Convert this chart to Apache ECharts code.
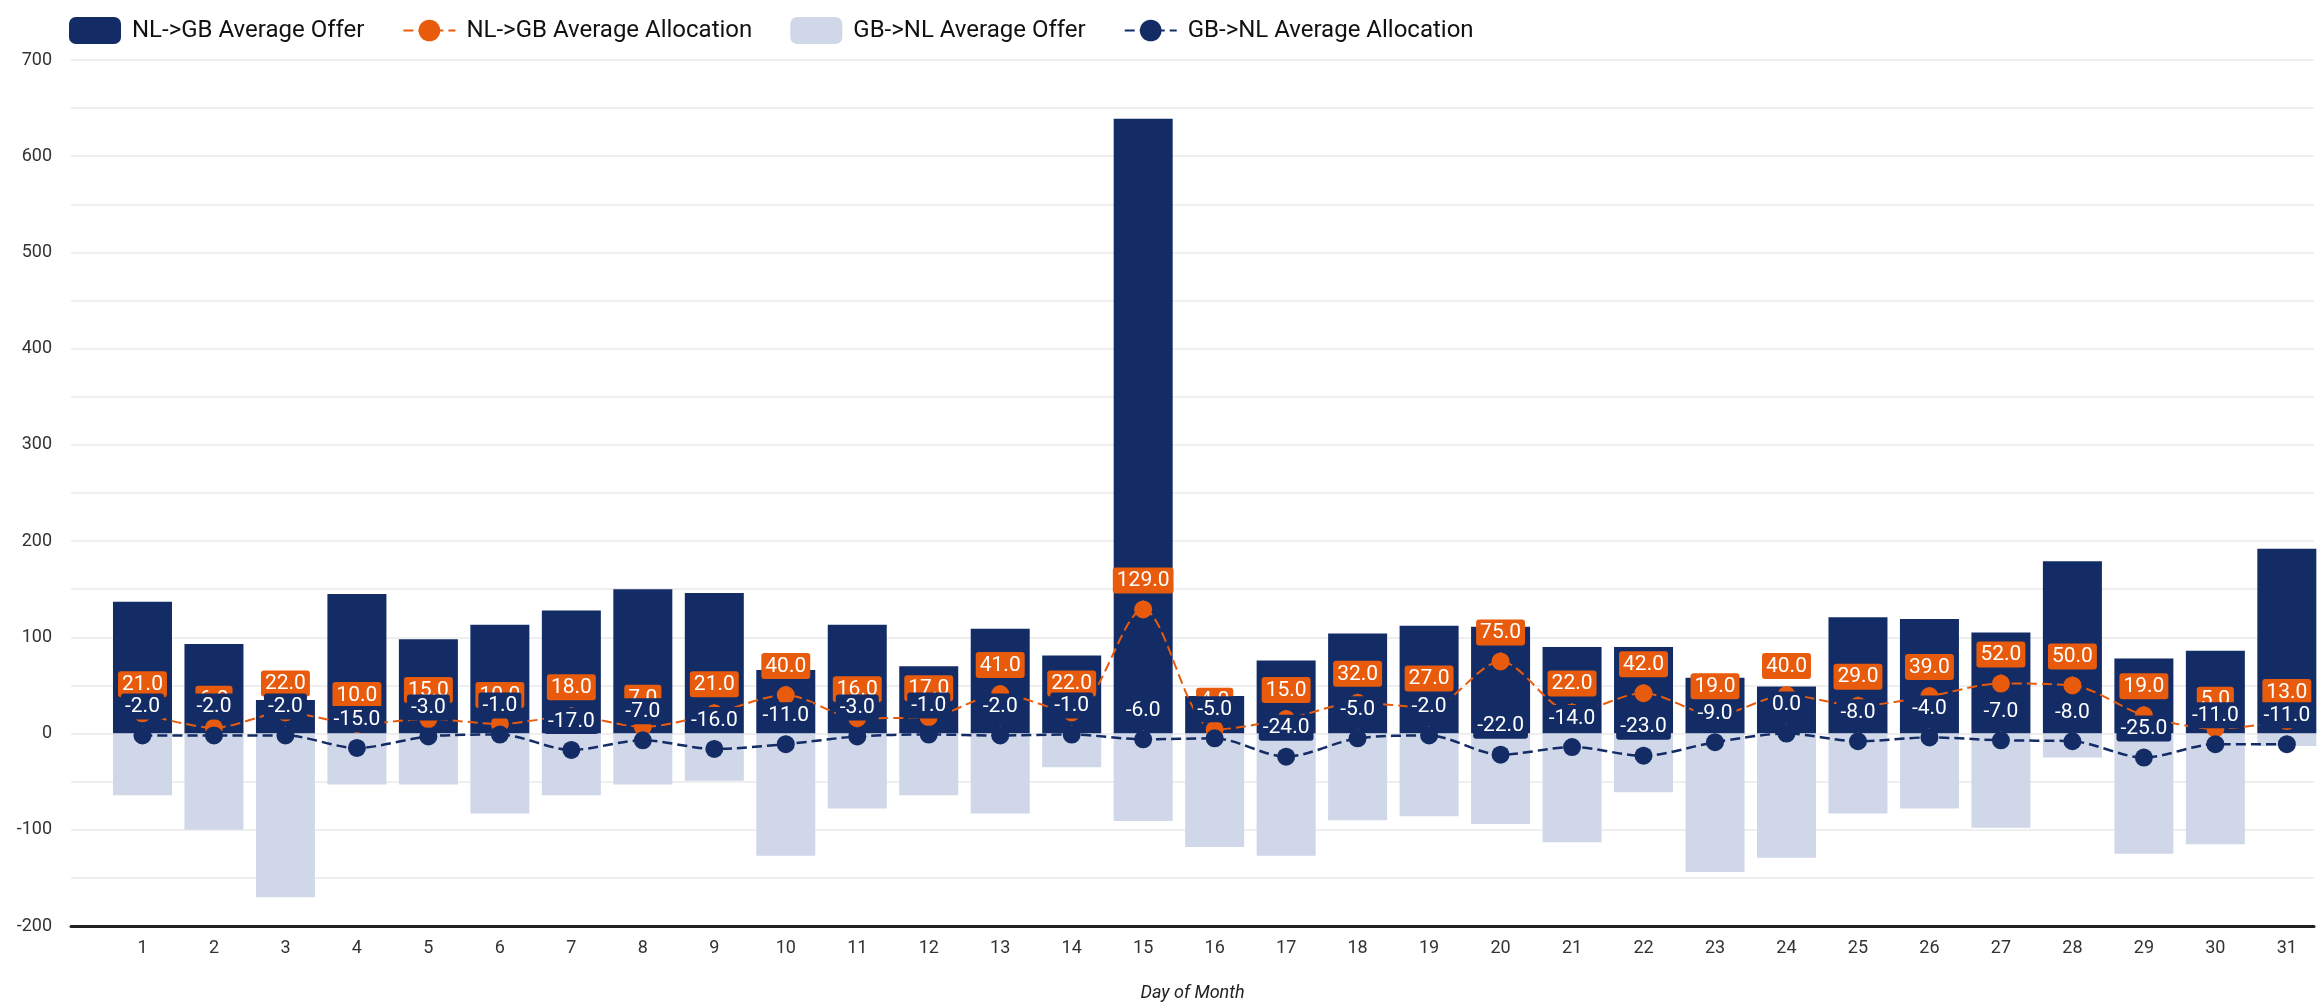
<!DOCTYPE html>
<html>
<head>
<meta charset="utf-8">
<script src="https://cdn.jsdelivr.net/npm/echarts@6/dist/echarts.min.js"></script>
<style>
  html, body { margin: 0; padding: 0; background: #fff; }
  #main { width: 2317px; height: 1007px; }
</style>
</head>
<body>
<div id="main"></div>
<script>
// values
var days = [1, 2, 3, 4, 5, 6, 7, 8, 9, 10, 11, 12, 13, 14, 15, 16, 17, 18, 19, 20, 21, 22, 23, 24, 25, 26, 27, 28, 29, 30, 31];
var nlgbOffer = [137, 93, 35, 145, 98, 113, 128, 150, 146, 66, 113, 70, 109, 81, 639, 39, 76, 104, 112, 111, 90, 90, 58, 49, 121, 119, 105, 179, 78, 86, 192];
var gbnlOffer = [-64, -100, -170, -53, -53, -83, -64, -53, -49, -127, -78, -64, -83, -35, -91, -118, -127, -90, -86, -94, -113, -61, -144, -129, -83, -78, -98, -25, -125, -115, -13];
var nlgbAlloc = [21, 6, 22, 10, 15, 10, 18, 7, 21, 40, 16, 17, 41, 22, 129, 4, 15, 32, 27, 75, 22, 42, 19, 40, 29, 39, 52, 50, 19, 5, 13];
var gbnlAlloc = [-2, -2, -2, -15, -3, -1, -17, -7, -16, -11, -3, -1, -2, -1, -6, -5, -24, -5, -2, -22, -14, -23, -9, 0, -8, -4, -7, -8, -25, -11, -11];

var NAVY = '#132c66';
var LIGHT = '#cfd7e8';
var ORANGE = '#e85b0c';
var FONT = 'Roboto';

function pairs(arr) {
    var out = [];
    for (var i = 0; i < days.length; i++) {
        out.push([days[i], arr[i]]);
    }
    return out;
}

function valueLabel(bg) {
    return {
        show: true,
        position: 'top',
        distance: 7,
        color: '#fff',
        fontFamily: FONT,
        fontSize: 21,
        backgroundColor: bg,
        borderRadius: 3,
        padding: [3, 4, 2, 4],
        formatter: function (p) { return p.value[1].toFixed(1); }
    };
}

var chart = echarts.init(document.getElementById('main'));

chart.setOption({
    animation: false,
    backgroundColor: '#fff',
    textStyle: { fontFamily: FONT },
    legend: {
        left: 64,
        top: 12,
        itemWidth: 52,
        itemHeight: 27,
        itemGap: 38,
        textStyle: { fontSize: 24, color: '#111', fontFamily: FONT, padding: [0, 0, 0, 6] },
        data: ['NL->GB Average Offer', 'NL->GB Average Allocation', 'GB->NL Average Offer', 'GB->NL Average Allocation']
    },
    // the reference plot runs past the right edge, so the axis stops part way into day 32
    grid: { left: 71, right: 0, top: 60, bottom: 57 },
    xAxis: {
        type: 'value',
        min: 0,
        max: 31.38,
        interval: 1,
        name: 'Day of Month',
        nameLocation: 'middle',
        nameGap: 58,
        nameTextStyle: { fontStyle: 'italic', fontSize: 18, color: '#222', fontFamily: FONT },
        splitLine: { show: false },
        axisTick: { show: false },
        axisLine: { show: true, onZero: false, lineStyle: { color: '#222', width: 3 } },
        axisLabel: {
            fontSize: 18,
            color: '#333',
            margin: 13,
            showMaxLabel: true,
            formatter: function (v) { return (v < 1 || v > 31) ? '' : String(v); }
        }
    },
    yAxis: {
        type: 'value',
        min: -200,
        max: 700,
        interval: 50,
        axisLine: { show: false },
        axisTick: { show: false },
        splitLine: { lineStyle: { color: '#efefef', width: 2 } },
        axisLabel: {
            fontSize: 18,
            color: '#333',
            margin: 19,
            formatter: function (v) { return v % 100 === 0 ? String(v) : ''; }
        }
    },
    series: [
        {
            name: 'NL->GB Average Offer',
            type: 'bar',
            stack: 'offer',
            barWidth: 59,
            z: 2,
            itemStyle: { color: NAVY },
            data: pairs(nlgbOffer)
        },
        {
            name: 'GB->NL Average Offer',
            type: 'bar',
            stack: 'offer',
            barWidth: 59,
            z: 2,
            itemStyle: { color: LIGHT },
            data: pairs(gbnlOffer)
        },
        {
            name: 'NL->GB Average Allocation',
            type: 'line',
            z: 3,
            smooth: 0.3,
            symbol: 'circle',
            symbolSize: 18,
            itemStyle: { color: ORANGE },
            lineStyle: { color: ORANGE, width: 2, type: [10, 5] },
            label: valueLabel(ORANGE),
            labelLine: { show: true, lineStyle: { color: '#999', width: 1.5 } },
            data: pairs(nlgbAlloc)
        },
        {
            name: 'GB->NL Average Allocation',
            type: 'line',
            z: 4,
            smooth: 0.3,
            symbol: 'circle',
            symbolSize: 18,
            itemStyle: { color: NAVY },
            lineStyle: { color: NAVY, width: 2.5, type: [10, 5] },
            label: valueLabel(NAVY),
            labelLine: { show: true, lineStyle: { color: '#999', width: 1.5 } },
            data: pairs(gbnlAlloc)
        }
    ]
});
</script>
</body>
</html>
